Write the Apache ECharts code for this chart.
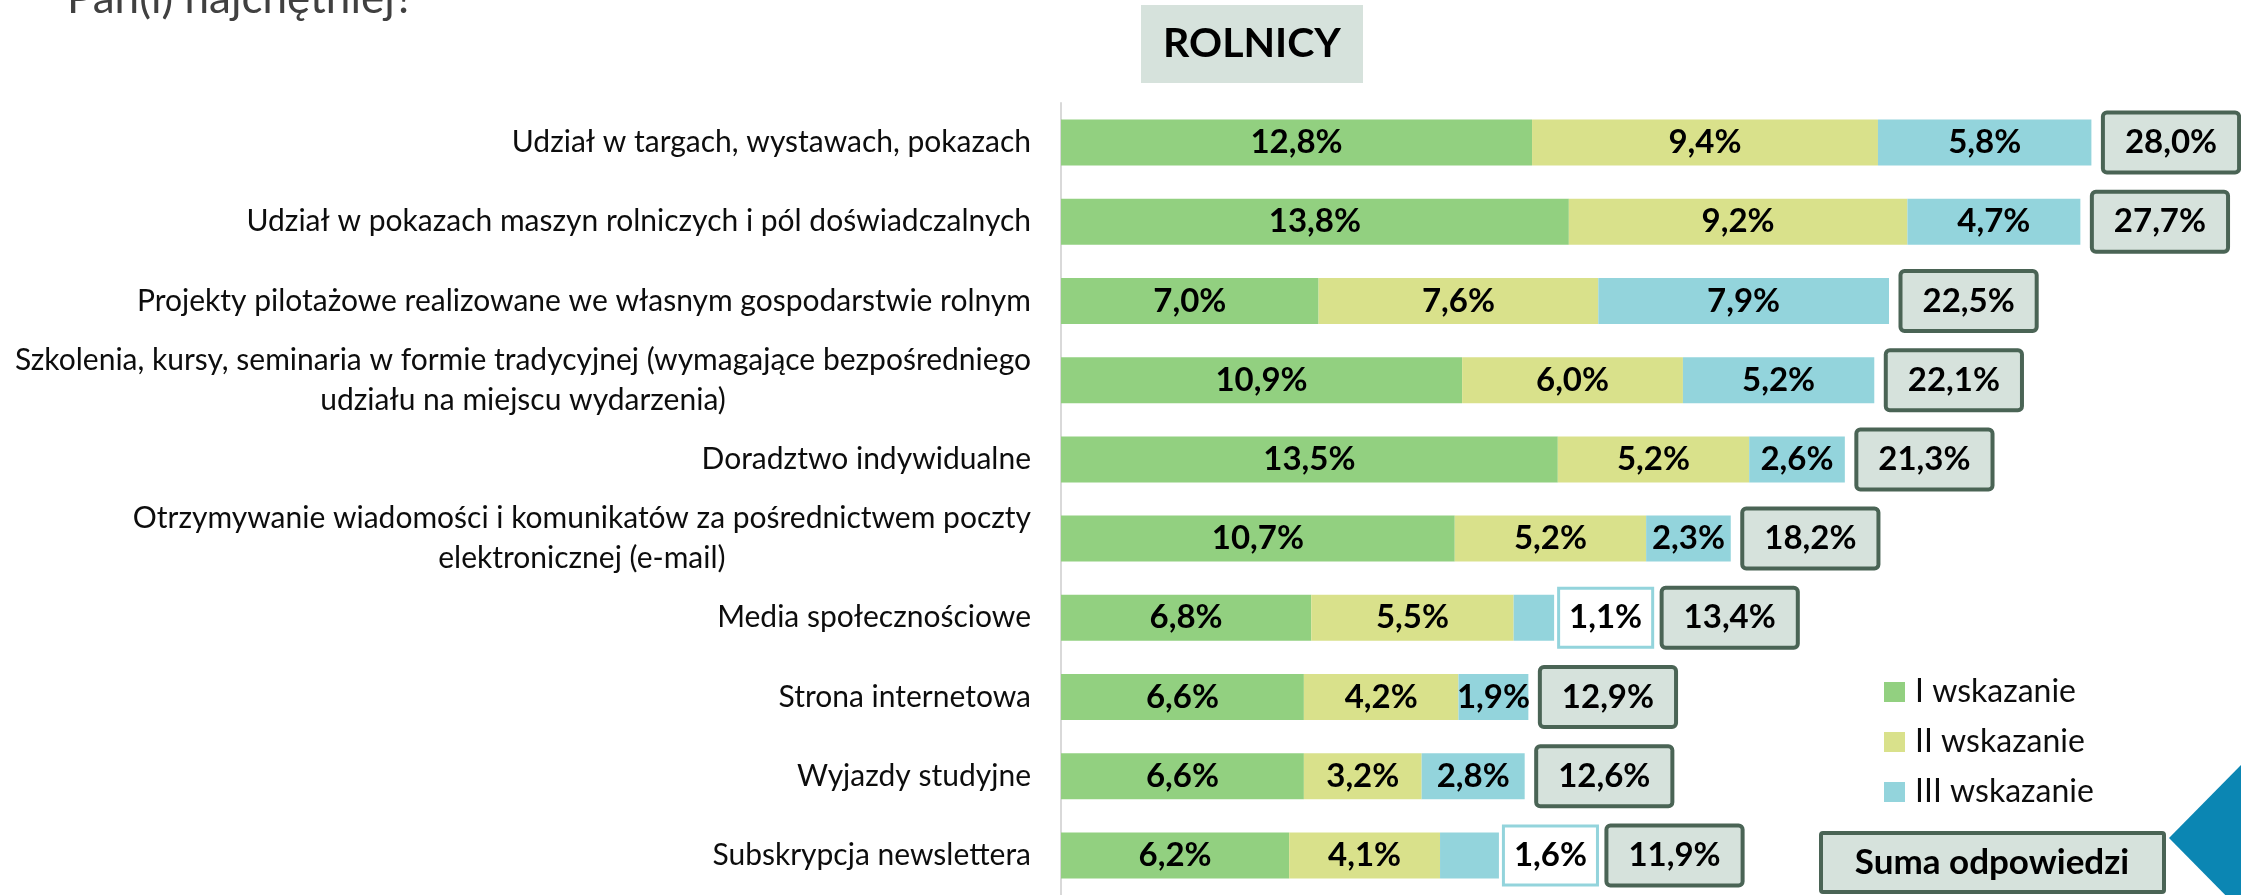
<!DOCTYPE html>
<html>
<head>
<meta charset="utf-8">
<style>
  html, body { margin: 0; padding: 0; background: #ffffff; }
  #chart { width: 2241px; height: 895px; }
</style>
<script src="https://cdn.jsdelivr.net/npm/echarts@6/dist/echarts.min.js"></script>
</head>
<body>
<div id="chart"></div>
<script>
// Preferred channels of information, farmers group (share of answers, %)
const categories = [
  'Udział w targach, wystawach, pokazach',
  'Udział w pokazach maszyn rolniczych i pól doświadczalnych',
  'Projekty pilotażowe realizowane we własnym gospodarstwie rolnym',
  'Szkolenia, kursy, seminaria w formie tradycyjnej (wymagające bezpośredniego\nudziału na miejscu wydarzenia)',
  'Doradztwo indywidualne',
  'Otrzymywanie wiadomości i komunikatów za pośrednictwem poczty\nelektronicznej (e-mail)',
  'Media społecznościowe',
  'Strona internetowa',
  'Wyjazdy studyjne',
  'Subskrypcja newslettera'
];
const seriesNames = ['I wskazanie', 'II wskazanie', 'III wskazanie'];
const firstChoice  = [12.8, 13.8, 7.0, 10.9, 13.5, 10.7, 6.8, 6.6, 6.6, 6.2];
const secondChoice = [9.4, 9.2, 7.6, 6.0, 5.2, 5.2, 5.5, 4.2, 3.2, 4.1];
const thirdChoice  = [5.8, 4.7, 7.9, 5.2, 2.6, 2.3, 1.1, 1.9, 2.8, 1.6];
const totals       = [28.0, 27.7, 22.5, 22.1, 21.3, 18.2, 13.4, 12.9, 12.6, 11.9];

const FONT = 'Lato, "Liberation Sans", sans-serif';
const COLORS = ['#92d080', '#d9e18b', '#93d4dc'];
const BOX_FILL = '#d6e2dc';
const BOX_BORDER = '#4a6455';
const SMALL = 1.7; // segments narrower than this get their label outside

const pct = v => v.toFixed(1).replace('.', ',') + '%';

const chart = echarts.init(document.getElementById('chart'), null, { renderer: 'canvas' });

const valueLabel = {
  show: true,
  position: 'inside',
  formatter: p => pct(p.value),
  color: '#000',
  fontFamily: FONT,
  fontWeight: 'bold',
  fontSize: 33
};

function barSeries(idx, values) {
  return {
    name: seriesNames[idx],
    type: 'bar',
    stack: 'all',
    barWidth: 46,
    itemStyle: { color: COLORS[idx] },
    label: valueLabel,
    emphasis: { disabled: true },
    data: values.map(v => {
      if (idx === 2 && v < SMALL) {
        return {
          value: v,
          label: {
            position: 'right',
            distance: 6,
            backgroundColor: '#ffffff',
            borderColor: COLORS[2],
            borderWidth: 3,
            padding: [10, 9],
            lineHeight: 36
          }
        };
      }
      return v;
    })
  };
}

const totalPoints = totals.map((t, i) => ({
  value: [firstChoice[i] + secondChoice[i] + thirdChoice[i], i],
  label: { distance: thirdChoice[i] < SMALL ? 109 : 13 }
}));

chart.setOption({
  animation: false,
  backgroundColor: '#ffffff',
  grid: { left: 1061, top: 103, width: 1104, height: 800, containLabel: false },
  xAxis: {
    type: 'value', min: 0, max: 30, show: false
  },
  yAxis: {
    type: 'category',
    data: categories,
    inverse: true,
    axisLine: { show: true, lineStyle: { color: '#d9d9d9', width: 2 } },
    axisTick: { show: false },
    splitLine: { show: false },
    axisLabel: {
      margin: 30,
      align: 'right',
      formatter: v => v.split('\n').map(l => '{c|' + l + '}').join('\n'),
      rich: {
        c: { align: 'center', fontFamily: FONT, fontSize: 30, color: '#0d0d0d', lineHeight: 40 }
      }
    }
  },
  legend: {
    data: seriesNames,
    orient: 'vertical',
    left: 1884,
    top: 676,
    padding: 0,
    itemWidth: 21,
    itemHeight: 20,
    itemGap: 18,
    icon: 'rect',
    selectedMode: false,
    textStyle: { fontFamily: FONT, fontSize: 32, color: '#0d0d0d', lineHeight: 32, padding: [0, 0, 0, 5] }
  },
  series: [
    barSeries(0, firstChoice),
    barSeries(1, secondChoice),
    barSeries(2, thirdChoice),
    {
      name: 'Suma odpowiedzi',
      type: 'scatter',
      symbolSize: 1,
      itemStyle: { color: 'rgba(0,0,0,0)', opacity: 1 },
      emphasis: { disabled: true },
      label: {
        show: true,
        position: 'right',
        formatter: p => pct(totals[p.dataIndex]),
        color: '#000',
        fontFamily: FONT,
        fontWeight: 'bold',
        fontSize: 33,
        lineHeight: 36,
        backgroundColor: BOX_FILL,
        borderColor: BOX_BORDER,
        borderWidth: 4,
        borderRadius: 2,
        padding: [10, 20]
      },
      data: totalPoints
    }
  ],
  graphic: [
    {
      type: 'text', left: 67, top: -23,
      style: { text: 'Pan(i) najchętniej?', fontFamily: FONT, fontSize: 44, fill: '#404040' }
    },
    {
      type: 'group', left: 1141, top: 5,
      children: [
        { type: 'rect', shape: { x: 0, y: 0, width: 222, height: 78 }, style: { fill: BOX_FILL } },
        { type: 'text', x: 111, y: 39, style: { text: 'ROLNICY', fontFamily: FONT, fontWeight: 'bold', fontSize: 41, fill: '#000', align: 'center', verticalAlign: 'middle' } }
      ]
    },
    {
      type: 'group', left: 1819, top: 831,
      children: [
        { type: 'rect', shape: { x: 0, y: 0, width: 343, height: 59, r: 2 }, style: { fill: BOX_FILL, stroke: BOX_BORDER, lineWidth: 4 } },
        { type: 'text', x: 171, y: 30, style: { text: 'Suma odpowiedzi', fontFamily: FONT, fontWeight: 'bold', fontSize: 35, fill: '#000', align: 'center', verticalAlign: 'middle' } }
      ]
    },
    {
      type: 'polygon',
      shape: { points: [[2241, 765], [2169, 838], [2241, 911]] },
      style: { fill: '#0b86b3' }
    }
  ]
});
</script>
</body>
</html>
